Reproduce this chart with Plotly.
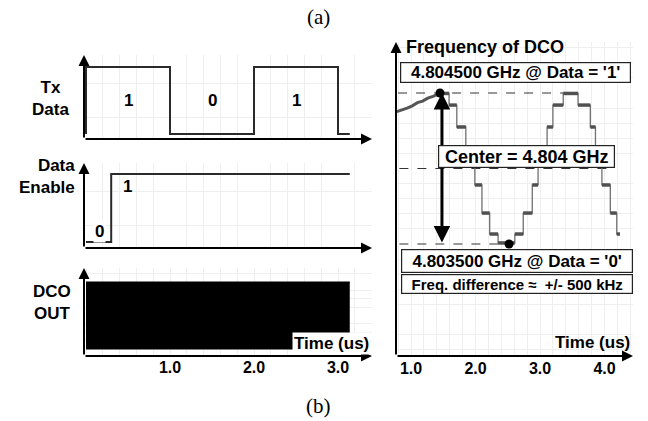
import plotly.graph_objects as go

W, H = 648, 421

# ---------------- data ----------------
# Tx data (time in us)
tx_edges = [0.0, 1.0, 2.0, 3.0, 3.14]
tx_bits = [1, 0, 1, 0]
tx_label_t = [0.5, 1.5, 2.5]
tx_labels = ["1", "0", "1"]

# Data enable
en_t = [0.0, 0.30, 3.14]
en_v = [0, 1, 1]
en_label_t = [0.155, 0.49]
en_label_v = [0.16, 0.81]
en_labels = ["0", "1"]

# DCO output envelope
dco_t = [0.0, 3.14]
dco_hi = [1, 1]
dco_lo = [-1, -1]

# Frequency of DCO (offset from centre, kHz)
f_center_ghz = 4.804
f_dev_khz = 500
rise_t = [0.78, 0.86, 0.94, 1.02, 1.10, 1.18, 1.26, 1.34, 1.45]
rise_khz = [377, 386, 400, 415, 436, 446, 466, 478, 497]
step_t = [1.45, 1.59, 1.71, 1.85, 1.99, 2.10, 2.22, 2.35, 2.61, 2.74, 2.88,
          2.97, 3.11, 3.20, 3.36, 3.59, 3.78, 3.86, 3.96, 4.09, 4.19]
step_khz = [497, 420, 275, 90, -109, -295, -434, -493, -434, -295, -109,
            90, 275, 420, 497, 420, 275, 90, -109, -295, -434]
step_end_t = 4.24
peak_t = 1.45
trough_t = 2.52
arrow_t = 1.48
guide_top_t = [0.80, 3.37]
guide_mid_t = [0.82, 4.16]
guide_bot_t = [0.82, 2.53]

left_ticks = [1.0, 2.0, 3.0]
right_ticks = [1.0, 2.0, 3.0, 4.0]

# ---------------- layout helpers ----------------
FONT = "Liberation Sans, Arial, sans-serif"
SERIF = "Liberation Serif, Times New Roman, serif"


def xd(a, b):
    return [a / W, b / W]


def yd(top, bottom):
    return [1 - bottom / H, 1 - top / H]


def px(x):
    return x / W


def py(y):
    return 1 - y / H


# pixel calibration of the axes
left_t = lambda x: (x - 86) / 84.0
right_t = lambda x: 1 + (x - 411) / 64.5
v1 = lambda y: (134 - y) / 67.0
v2 = lambda y: (242 - y) / 68.0
v3 = lambda y: (315.5 - y) / 33.5
v4 = lambda y: (168.5 - y) / 0.151

fig = go.Figure()

# Tx data
tx_x = [tx_edges[0]] + tx_edges
tx_y = [0] + tx_bits + [tx_bits[-1]]
fig.add_trace(go.Scatter(x=tx_x, y=tx_y, mode="lines", line=dict(color="#2a2a2a", width=2, shape="hv"),
                         xaxis="x", yaxis="y", hoverinfo="skip"))
# Data enable
fig.add_trace(go.Scatter(x=en_t, y=en_v, mode="lines", line=dict(color="#2a2a2a", width=2, shape="hv"),
                         xaxis="x2", yaxis="y2", hoverinfo="skip"))
# DCO out (solid because of the fast oscillation)
fig.add_trace(go.Scatter(x=dco_t, y=dco_lo, mode="lines", line=dict(color="black", width=1),
                         xaxis="x3", yaxis="y3", hoverinfo="skip"))
fig.add_trace(go.Scatter(x=dco_t, y=dco_hi, mode="lines", line=dict(color="black", width=1),
                         fill="tonexty", fillcolor="black", xaxis="x3", yaxis="y3", hoverinfo="skip"))

# Frequency guides (dashed)
for gt, gv in [(guide_top_t, f_dev_khz), (guide_mid_t, 0), (guide_bot_t, -f_dev_khz)]:
    fig.add_trace(go.Scatter(x=gt, y=[gv, gv], mode="lines",
                             line=dict(color="#333333", width=1, dash="dash"),
                             xaxis="x4", yaxis="y4", hoverinfo="skip"))

# Frequency trace: staircase with thin transitions and thick plateaus
fig.add_trace(go.Scatter(x=step_t + [step_end_t], y=step_khz + [step_khz[-1]], mode="lines",
                         line=dict(color="#707070", width=1.3, shape="hv"),
                         xaxis="x4", yaxis="y4", hoverinfo="skip"))
plat_x, plat_y = [], []
ends = step_t[1:] + [step_end_t]
for t0, t1, k in zip(step_t, ends, step_khz):
    plat_x += [t0, t1, None]
    plat_y += [k, k, None]
fig.add_trace(go.Scatter(x=plat_x, y=plat_y, mode="lines",
                         line=dict(color="#505050", width=3.5),
                         xaxis="x4", yaxis="y4", hoverinfo="skip"))
fig.add_trace(go.Scatter(x=rise_t, y=rise_khz, mode="lines",
                         line=dict(color="#555555", width=3),
                         xaxis="x4", yaxis="y4", hoverinfo="skip"))
fig.add_trace(go.Scatter(x=[peak_t, trough_t], y=[f_dev_khz, -f_dev_khz], mode="markers",
                         marker=dict(color="black", size=9),
                         xaxis="x4", yaxis="y4", hoverinfo="skip"))

GRID = "#efefef"


def xaxis(dom, rng, dtick, tick0, **kw):
    d = dict(domain=dom, range=rng, showgrid=False, zeroline=False, showline=False,
             showticklabels=False, ticks="", fixedrange=True,
             minor=dict(dtick=dtick, tick0=tick0, showgrid=True, gridcolor=GRID, gridwidth=1, ticks=""))
    d.update(kw)
    return d


def yaxis(dom, rng, dtick, tick0):
    return dict(domain=dom, range=rng, showgrid=False, zeroline=False, showline=False,
                showticklabels=False, ticks="", fixedrange=True,
                minor=dict(dtick=dtick, tick0=tick0, showgrid=True, gridcolor=GRID, gridwidth=1, ticks=""))


tickfont = dict(family=FONT, size=16, color="black")

fig.update_layout(
    width=W, height=H, margin=dict(l=0, r=0, t=0, b=0),
    paper_bgcolor="white", plot_bgcolor="white", showlegend=False,
    xaxis=xaxis(xd(84, 372), [left_t(84), left_t(372)], 0.2, 0, anchor="y"),
    yaxis=yaxis(yd(55, 139), [v1(139), v1(55)], 0.25, 0),
    xaxis2=xaxis(xd(84, 372), [left_t(84), left_t(372)], 0.2, 0, anchor="y2"),
    yaxis2=yaxis(yd(163, 248), [v2(248), v2(163)], 0.25, 0),
    xaxis3=xaxis(xd(84, 372), [left_t(84), left_t(372)], 0.2, 0, anchor="y3",
                  showticklabels=True, tickvals=left_ticks,
                  ticktext=[f"<b>{v:.1f}</b>" for v in left_ticks], tickfont=tickfont,
                  ticklabelstandoff=0),
    yaxis3=yaxis(yd(268, 356), [v3(356), v3(268)], 0.25, 0),
    xaxis4=xaxis(xd(396, 633), [right_t(396), right_t(633)], 0.2, 1, anchor="y4",
                  showticklabels=True, tickvals=right_ticks,
                  ticktext=[f"<b>{v:.1f}</b>" for v in right_ticks], tickfont=tickfont,
                  ticklabelstandoff=1),
    yaxis4=yaxis(yd(42, 356), [v4(356), v4(42)], 100, 0),
)

ann = []
# axis arrows
for xa, ya in [("x", "y"), ("x2", "y2"), ("x3", "y3"), ("x4", "y4")]:
    for tip in [(0, 1), (1, 0)]:
        ann.append(dict(x=tip[0], y=tip[1], xref=f"{xa} domain", yref=f"{ya} domain",
                        ax=0, ay=0, axref=f"{xa} domain", ayref=f"{ya} domain",
                        text="", showarrow=True, arrowhead=2, arrowsize=1.1,
                        arrowwidth=2, arrowcolor="black", standoff=0))

bold = lambda s: f"<b>{s}</b>"
F17 = dict(family=FONT, size=17, color="black")


def ptext(x, y, text, font=F17, xanchor="center", yanchor="middle", **kw):
    d = dict(x=px(x), y=py(y), xref="paper", yref="paper", text=text, showarrow=False,
             font=font, xanchor=xanchor, yanchor=yanchor)
    d.update(kw)
    return d


# signal labels
ann.append(ptext(50, 98, bold("Tx<br>Data"), align="center"))
ann.append(ptext(77, 176, bold("Data<br>Enable"), align="right", xanchor="right"))
ann.append(ptext(52, 302, bold("DCO<br>OUT"), align="center"))

for t, s in zip(tx_label_t, tx_labels):
    ann.append(dict(x=t, y=0.5, xref="x", yref="y", text=bold(s), showarrow=False,
                    font=F17, bgcolor="white", xanchor="center", yanchor="middle"))
for t, v, s in zip(en_label_t, en_label_v, en_labels):
    ann.append(dict(x=t, y=v, xref="x2", yref="y2", text=bold(s), showarrow=False,
                    font=F17, bgcolor="white", xanchor="center", yanchor="middle"))

ann.append(ptext(371, 343, bold("Time (us)"), xanchor="right", bgcolor="white", borderpad=1))
ann.append(ptext(632, 342, bold("Time (us)"), xanchor="right"))

# frequency panel annotations
ann.append(ptext(404, 47, bold("Frequency of DCO"), font=dict(family=FONT, size=18, color="black"),
                 xanchor="left"))
ann.append(dict(x=arrow_t, y=f_dev_khz, xref="x4", yref="y4", ax=arrow_t, ay=-f_dev_khz,
                axref="x4", ayref="y4", text="", showarrow=True, arrowhead=2, arrowside="end+start",
                arrowsize=1.1, arrowwidth=3, arrowcolor="black", standoff=0, startstandoff=0))
BOX = dict(bgcolor="white", bordercolor="#222", borderwidth=1.2, borderpad=0)
ann.append(ptext(515, 72.5, bold(f"{f_center_ghz + f_dev_khz / 1e6:.6f} GHz @ Data = '1'"),
                 width=229, height=19, **BOX))
ann.append(ptext(526, 156, bold(f"Center = {f_center_ghz:.3f} GHz"),
                 font=dict(family=FONT, size=18, color="black"), width=175, height=21, **BOX))
ann.append(ptext(516.5, 260.5, bold(f"{f_center_ghz - f_dev_khz / 1e6:.6f} GHz @ Data = '0'"),
                 width=230, height=22, **BOX))
ann.append(ptext(516.5, 283.5, bold(f"Freq. difference \u2248  +/- {f_dev_khz} kHz"),
                 font=dict(family=FONT, size=15, color="black"), width=230, height=18, **BOX))

# (a) / (b)
ann.append(ptext(318, 17, "(a)", font=dict(family=SERIF, size=21, color="black")))
ann.append(ptext(318, 406, "(b)", font=dict(family=SERIF, size=21, color="black")))

fig.update_layout(annotations=ann)
fig.write_html("out.html", config={"displayModeBar": False},
               post_script="document.body.style.margin='0';document.body.style.padding='0';"
                           "document.body.style.overflow='hidden';")
